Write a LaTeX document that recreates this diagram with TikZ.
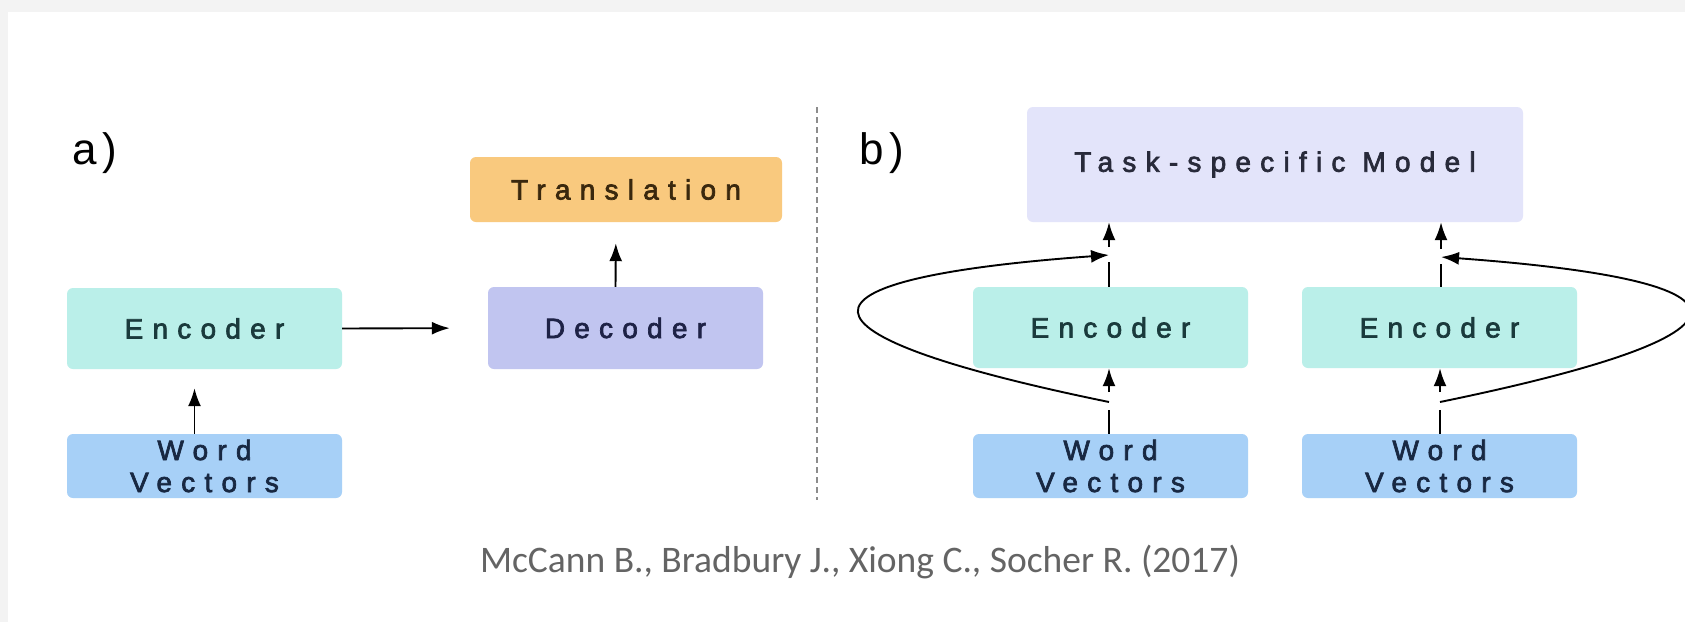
\documentclass[tikz,border=0pt]{standalone}
\usepackage{fontspec}
\setmainfont{Liberation Sans}
\newfontfamily\boxfont[LetterSpace=33,FakeBold=2.5]{Liberation Sans}
\newfontfamily\tagfont[LetterSpace=14]{Liberation Sans}
\newfontfamily\capfont{Carlito}
\usetikzlibrary{arrows.meta}

\definecolor{encfill}{RGB}{186,239,233}
\definecolor{wvfill}{RGB}{167,208,247}
\definecolor{trfill}{RGB}{249,201,126}
\definecolor{decfill}{RGB}{193,197,240}
\definecolor{taskfill}{RGB}{227,228,250}
\definecolor{enctext}{RGB}{26,58,60}
\definecolor{wvtext}{RGB}{24,40,66}
\definecolor{trtext}{RGB}{58,40,14}
\definecolor{dectext}{RGB}{30,34,70}
\definecolor{tasktext}{RGB}{40,42,58}
\definecolor{capgray}{RGB}{100,100,100}
\definecolor{framegray}{RGB}{243,243,243}

\begin{document}
\begin{tikzpicture}[x=1pt, y=-1pt,
  box/.style={rounded corners=6pt, inner sep=0pt, minimum width=275pt,
    align=center, font=\boxfont\fontsize{28}{32}\selectfont},
  encbox/.style={box, fill=encfill, text=enctext, minimum height=81pt},
  wvbox/.style={box, fill=wvfill, text=wvtext, minimum height=64pt},
  trbox/.style={box, fill=trfill, text=trtext, minimum width=312pt, minimum height=65pt},
  decbox/.style={box, fill=decfill, text=dectext, minimum height=82pt},
  taskbox/.style={box, fill=taskfill, text=tasktext, minimum width=496pt, minimum height=115pt},
  conn/.style={line width=1.9pt, -{Latex[length=18pt,width=13pt]}},
  link/.style={line width=1.9pt},
  tag/.style={anchor=base west, inner sep=0pt, font=\tagfont\fontsize{44}{46}\selectfont},
  sep/.style={line width=1.2pt, black!45, dash pattern=on 6pt off 4pt}
]
% canvas with a faint frame at the top and left
\path[use as bounding box] (0,0) rectangle (1685,622);
\fill[framegray] (0,0) rectangle (1685,622);
\fill[white] (8,12) rectangle (1685,622);
\clip (0,0) rectangle (1685,622);

% ---- part a: encoder-decoder for translation
\node[tag] (la) at (72,164) {a)};
\node[encbox] (encA) at (204.5,328.5) {Encoder};
\node[wvbox]  (wvA)  at (204.5,466)   {Word\\Vectors};
\node[decbox] (dec)  at (625.5,328)   {Decoder};
\node[trbox]  (tr)   at (626,189.5)   {Translation};

\draw[conn, shorten >=19pt] ([xshift=-10pt]wvA.north) -- ([xshift=-10pt]encA.south);
\draw[conn, shorten >=38pt] (encA.east) -- (dec.west);
\draw[conn, shorten >=21pt] ([xshift=-10pt]dec.north) -- ([xshift=-10pt]tr.south);

% separator
\draw[sep] (817,107) -- (817,500);

% ---- part b: encoders feeding a task-specific model
\node[tag] (lb) at (859,164) {b)};
\node[taskbox] (task) at (1275,164.5) {Task-specific Model};
\node[encbox] (encL) at (1110.5,327.5) {Encoder};
\node[wvbox]  (wvL)  at (1110.5,466)   {Word\\Vectors};
\node[encbox] (encR) at (1439.5,327.5) {Encoder};
\node[wvbox]  (wvR)  at (1439.5,466)   {Word\\Vectors};

\coordinate (jLlow)  at (1109,402);
\coordinate (jLhigh) at (1109,255);
\coordinate (jRlow)  at (1440,402);
\coordinate (jRhigh) at (1441,257);

% left column
\draw[link, shorten >=8pt] (wvL.north -| jLlow) -- (jLlow);
\draw[conn, shorten <=10pt] (jLlow) -- (encL.south -| jLlow);
\draw[link, shorten >=7pt] (encL.north -| jLhigh) -- (jLhigh);
\draw[conn, shorten <=8pt] (jLhigh) -- (task.south -| jLhigh);
\draw[conn] (jLlow) .. controls (777,334) and (777,279) .. (jLhigh);

% right column
\draw[link, shorten >=8pt] (wvR.north -| jRlow) -- (jRlow);
\draw[conn, shorten <=10pt] (jRlow) -- (encR.south -| jRlow);
\draw[link, shorten >=7pt] (encR.north -| jRhigh) -- (jRhigh);
\draw[conn, shorten <=8pt] (jRhigh) -- (task.south -| jRhigh);
\draw[conn] (jRlow) .. controls (1771,334) and (1771,281) .. (jRhigh);

% reference line
\node[font=\capfont\fontsize{37.5}{40}\selectfont, text=capgray] (cite) at (860,562)
  {McCann B., Bradbury J., Xiong C., Socher R. (2017)};
\end{tikzpicture}
\end{document}
